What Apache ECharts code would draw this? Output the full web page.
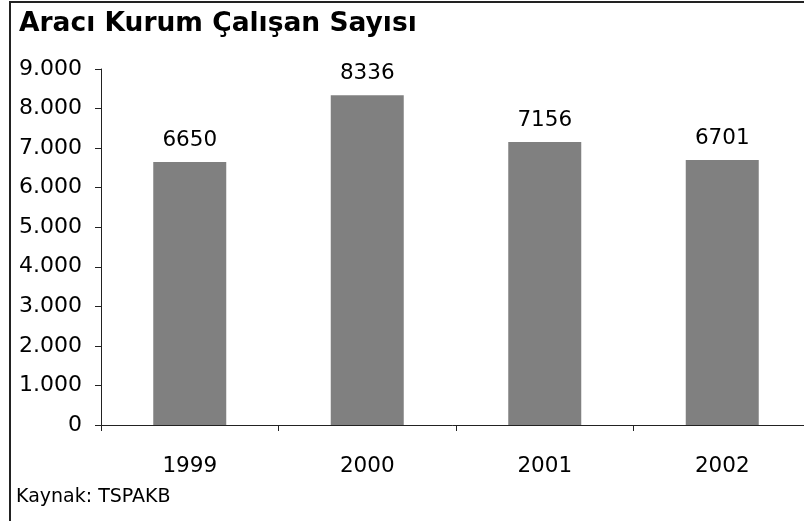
<!DOCTYPE html>
<html>
<head>
<meta charset="utf-8">
<script src="https://cdn.jsdelivr.net/npm/echarts@6/dist/echarts.min.js"></script>
<style>
  html, body { margin: 0; padding: 0; background: #fff; }
  #chart { width: 804px; height: 521px; }
</style>
</head>
<body>
<div id="chart"></div>
<script>
// veriler
const years = ['1999', '2000', '2001', '2002'];
const employees = [6650, 8336, 7156, 6701];
const yTicks = [0, 1000, 2000, 3000, 4000, 5000, 6000, 7000, 8000, 9000];

const font = 'DejaVu Sans';

// binlik ayraç olarak nokta
const fmt = v => v >= 1000 ? String(v).replace(/\B(?=(\d{3})+(?!\d))/g, '.') : String(v);

const chart = echarts.init(document.getElementById('chart'));
chart.setOption({
  animation: false,
  title: {
    text: 'Aracı Kurum Çalışan Sayısı',
    left: 14,
    top: 6,
    textStyle: { fontFamily: font, fontWeight: 'bold', fontSize: 26.5, color: '#000' }
  },
  graphic: [
    {
      type: 'polyline',
      shape: { points: [[10, 521], [10, 2], [804, 2]] },
      style: { stroke: '#222', lineWidth: 2, fill: null }
    },
    {
      type: 'text',
      left: 16,
      top: 488,
      style: { text: 'Kaynak: TSPAKB', font: '19px "DejaVu Sans"', fill: '#000' }
    }
  ],
  // grafik alanı sağ kenardan taşıyor (orijinalde kesik)
  grid: { left: 101, width: 710, top: 69, bottom: 96, outerBoundsMode: 'none', containLabel: false },
  xAxis: {
    type: 'category',
    data: years,
    axisLine: { lineStyle: { color: '#222', width: 1 } },
    axisTick: { show: true, length: 6, lineStyle: { color: '#222' } },
    axisLabel: { color: '#000', fontFamily: font, fontSize: 21.5, margin: 30 }
  },
  yAxis: {
    type: 'value',
    min: yTicks[0],
    max: yTicks[yTicks.length - 1],
    interval: 1000,
    splitLine: { show: false },
    axisLine: { show: true, lineStyle: { color: '#222', width: 1 } },
    axisTick: { show: true, length: 6, lineStyle: { color: '#222' } },
    axisLabel: { color: '#000', fontFamily: font, fontSize: 22, margin: 19, formatter: fmt }
  },
  series: [{
    type: 'bar',
    data: employees,
    barWidth: 73,
    itemStyle: { color: '#808080' },
    label: {
      show: true,
      position: 'top',
      distance: 11,
      color: '#000',
      fontFamily: font,
      fontSize: 21.5
    }
  }]
});
</script>
</body>
</html>
